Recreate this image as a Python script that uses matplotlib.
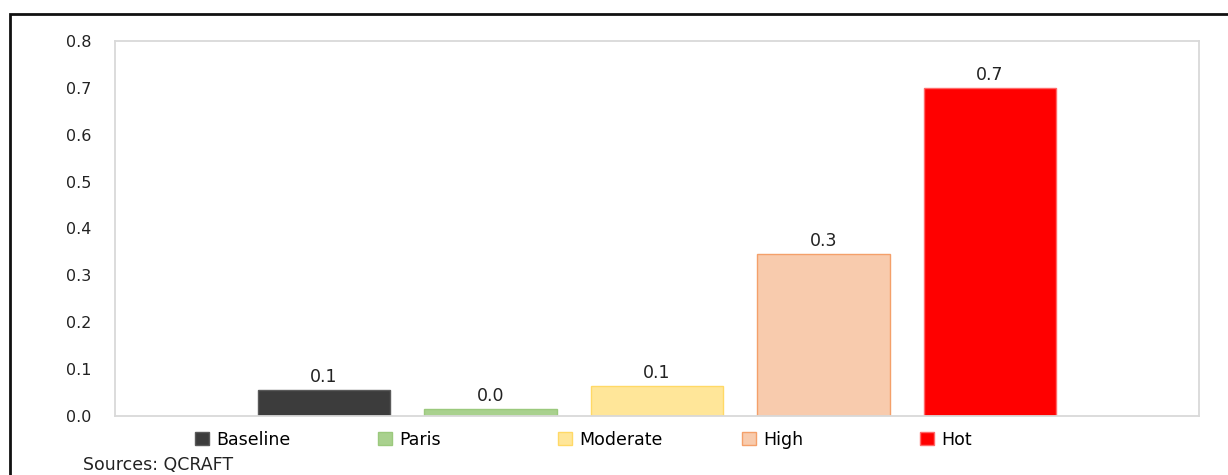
import matplotlib.pyplot as plt
from matplotlib.patches import Patch, Rectangle
import numpy as np

plt.rcParams['font.family'] = ['DejaVu Sans']

scenarios = ['Baseline', 'Paris', 'Moderate', 'High', 'Hot']
values = [0.055, 0.014, 0.064, 0.346, 0.700]
fills = ['#3c3c3c', '#a9d18e', '#ffe699', '#f8cbad', '#ff0000']
edges = ['#5a5a5a', '#9bc97d', '#ffd966', '#f4a06a', '#ff6a6a']
yticks = [0.0, 0.1, 0.2, 0.3, 0.4, 0.5, 0.6, 0.7, 0.8]

W, H = 1228, 475
fig = plt.figure(figsize=(W / 100, H / 100), dpi=100)
ax = fig.add_axes([115 / W, 1 - 416 / H, (1199 - 115) / W, (416 - 41) / H])

x = np.arange(len(scenarios))
bars = ax.bar(x, values, width=0.795, color=fills, edgecolor=edges, linewidth=1)
ax.bar_label(bars, labels=['%.1f' % v for v in values], padding=3,
             fontsize=12.5, color='#222222')

ax.set_xlim(-1.255, 5.255)
ax.set_ylim(0, 0.8)
ax.set_yticks(yticks)
ax.set_yticklabels(['%.1f' % t for t in yticks], fontsize=11.5, color='#222222')
ax.set_xticks([])
ax.tick_params(axis='y', length=0, pad=17)
for s in ax.spines.values():
    s.set_color('#d9d9d9')
    s.set_linewidth(1.3)

# legend: equal-width columns like the source
leg_x = [195, 378, 558, 742, 920]
for name, fc, ec, lx in zip(scenarios, fills, edges, leg_x):
    h = Patch(facecolor=fc, edgecolor=ec, label=name)
    fig.legend(handles=[h], loc='center left', bbox_to_anchor=(lx / W, 1 - 440 / H),
               frameon=False, fontsize=12.5, handlelength=0.78, handleheight=0.78,
               handletextpad=0.42, borderpad=0, borderaxespad=0)

fig.text(83 / W, 1 - 465 / H, 'Sources: QCRAFT', fontsize=12.5, color='#222222',
         va='center', ha='left')

# outer frame of the figure box (only top and left visible)
fig.add_artist(Rectangle((10 / W, -0.2), 1.2, 1.2 - 14 / H, transform=fig.transFigure,
                         fill=False, edgecolor='#111111', linewidth=2, clip_on=False))

fig.savefig('out.png', dpi=100)
